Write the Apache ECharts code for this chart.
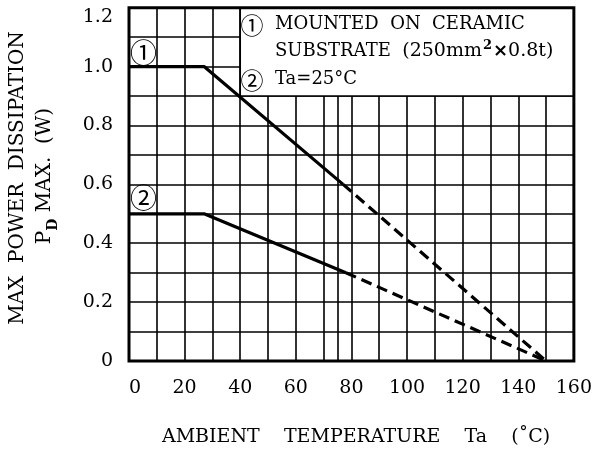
<!DOCTYPE html>
<html><head><meta charset="utf-8">
<script src="https://cdn.jsdelivr.net/npm/echarts@6/dist/echarts.min.js"></script>
<style>html,body{margin:0;padding:0;background:#fff}#c{width:595px;height:453px}</style>
</head><body><div id="c"></div>
<script>
// ---- data ----
const xMin = 0, xMax = 160, xStep = 10, xLabelStep = 20;
const yMin = 0, yMax = 1.2, yStep = 0.1, yLabelStep = 0.2;
const curve1Solid = [[0, 1.0], [27, 1.0], [77, 0.6]];
const curve1Dashed = [[77, 0.6], [150, 0]];
const curve2Solid = [[0, 0.5], [27, 0.5], [78, 0.3]];
const curve2Dashed = [[78, 0.3], [150, 0]];
const legendBoxCorners = [[40, 0.9], [160, 1.2]];
const extraGridX = 75;
const extraGridYTop = 0.9;
const legendLine1 = 'MOUNTED  ON  CERAMIC';
const legendLine2 = ['SUBSTRATE  ', '(250mm', '2', '×', '0.8t)'];
const legendLine3 = 'Ta=25°C';
const curveTags = ['①', '②'];
const xTitle = 'AMBIENT    TEMPERATURE    Ta    (˚C)';
const yTitle1 = 'MAX  POWER  DISSIPATION';
const yTitle2Parts = ['P', 'D', ' MAX.  (W)'];

const SERIF = '"DejaVu Serif", "Liberation Serif", serif';
const CIRC = '"Noto Sans CJK JP", "DejaVu Sans", sans-serif';

const chart = echarts.init(document.getElementById('c'), null, {renderer: 'canvas'});

function txt(x, y, text, font, align, vAlign, extra) {
  return Object.assign({
    type: 'text', x: x, y: y, z: 100, silent: true,
    style: {text: text, font: font, fill: '#000',
      align: align, textAlign: align, verticalAlign: vAlign, textVerticalAlign: vAlign}
  }, extra || {});
}

const lineBase = {type: 'line', symbol: 'none', z: 5, silent: true, animation: false};

chart.setOption({
  animation: false,
  backgroundColor: '#fff',
  grid: {left: 129, right: 19.5, top: 7.7, bottom: 92, show: true, z: 3,
    borderColor: '#000', borderWidth: 3, backgroundColor: 'transparent'},
  xAxis: {
    type: 'value', min: xMin, max: xMax, interval: xStep,
    axisLine: {show: false}, axisTick: {show: false},
    splitLine: {show: true, lineStyle: {color: '#000', width: 1.6}},
    axisLabel: {
      margin: 18, color: '#000', fontFamily: SERIF, fontSize: 19, alignMinLabel: 'left',
      formatter: v => (Math.round(v) % xLabelStep === 0 ? String(v) : '')
    }
  },
  yAxis: {
    type: 'value', min: yMin, max: yMax, interval: yStep,
    axisLine: {show: false}, axisTick: {show: false},
    splitLine: {show: true, lineStyle: {color: '#000', width: 1.6}},
    axisLabel: {
      margin: 16, color: '#000', fontFamily: SERIF, fontSize: 19, verticalAlignMaxLabel: 'top',
      formatter: v => {
        const k = Math.round(v / yStep);
        if (k % Math.round(yLabelStep / yStep) !== 0) return '';
        return k === 0 ? '0' : (k * yStep).toFixed(1);
      }
    }
  },
  series: [
    {type: 'line', data: [], symbol: 'none', z: 2, silent: true,
      markArea: {silent: true, label: {show: false},
        itemStyle: {color: '#fff', opacity: 1, borderColor: '#000', borderWidth: 1.6},
        data: [[{coord: legendBoxCorners[0]}, {coord: legendBoxCorners[1]}]]},
      markLine: {silent: true, symbol: 'none', label: {show: false},
        lineStyle: {color: '#000', width: 1.6, type: 'solid'},
        data: [[{coord: [extraGridX, yMin]}, {coord: [extraGridX, extraGridYTop]}]]}
    },
    Object.assign({}, lineBase, {data: curve1Solid, lineStyle: {color: '#000', width: 3.2, type: 'solid'}}),
    Object.assign({}, lineBase, {data: curve1Dashed, lineStyle: {color: '#000', width: 3.2, type: [11, 6]}}),
    Object.assign({}, lineBase, {data: curve2Solid, lineStyle: {color: '#000', width: 3.2, type: 'solid'}}),
    Object.assign({}, lineBase, {data: curve2Dashed, lineStyle: {color: '#000', width: 3.2, type: [11, 6]}})
  ],
  graphic: [
    txt(143.5, 52.5, curveTags[0], '27px ' + CIRC, 'center', 'middle'),
    txt(143.5, 197.5, curveTags[1], '27px ' + CIRC, 'center', 'middle'),
    txt(252, 25, curveTags[0], '23px ' + CIRC, 'center', 'middle'),
    txt(252, 80, curveTags[1], '23px ' + CIRC, 'center', 'middle'),
    txt(275, 24, legendLine1, '18px ' + SERIF, 'left', 'middle'),
    {
      type: 'text', x: 275, y: 51, z: 100, silent: true,
      style: {
        text: '{n|' + legendLine2[0] + '}{b|' + legendLine2[1] + '}{sup|' + legendLine2[2] + '}{x|' + legendLine2[3] + '}{b|' + legendLine2[4] + '}',
        align: 'left', textAlign: 'left', verticalAlign: 'middle', textVerticalAlign: 'middle', fill: '#000',
        rich: {
          n: {font: '18px ' + SERIF, fill: '#000', lineHeight: 24, verticalAlign: 'middle'},
          b: {font: '19px ' + SERIF, fill: '#000', lineHeight: 24, verticalAlign: 'middle'},
          sup: {font: 'bold 13px ' + SERIF, fill: '#000', lineHeight: 24, verticalAlign: 'top', padding: [0, 1, 0, 1]},
          x: {font: 'bold 18px "DejaVu Sans", sans-serif', fill: '#000', lineHeight: 24, verticalAlign: 'middle'}
        }
      }
    },
    txt(275, 79, legendLine3, '18px ' + SERIF, 'left', 'middle'),
    txt(356, 437, xTitle, '19px ' + SERIF, 'center', 'middle'),
    txt(18, 178, yTitle1, '20px ' + SERIF, 'center', 'middle', {rotation: Math.PI / 2}),
    {
      type: 'text', x: 45, y: 176, z: 100, silent: true, rotation: Math.PI / 2,
      style: {
        text: '{n|' + yTitle2Parts[0] + '}{s|' + yTitle2Parts[1] + '}{n|' + yTitle2Parts[2] + '}',
        align: 'center', textAlign: 'center', verticalAlign: 'middle', textVerticalAlign: 'middle',
        fill: '#000',
        rich: {
          n: {font: '20px ' + SERIF, fill: '#000', lineHeight: 30, verticalAlign: 'middle'},
          s: {font: 'bold 14px ' + SERIF, fill: '#000', lineHeight: 30, verticalAlign: 'bottom'}
        }
      }
    }
  ]
});
</script></body></html>
